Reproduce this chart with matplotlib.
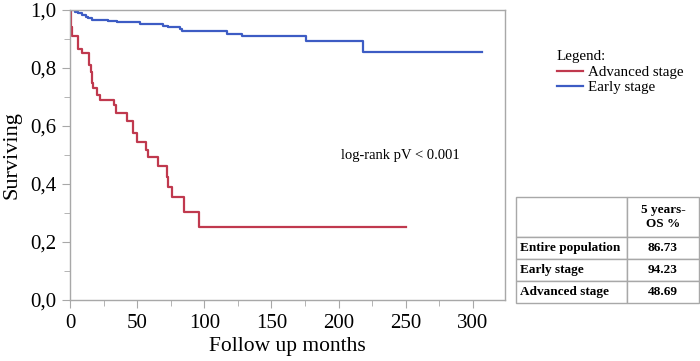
import matplotlib
matplotlib.use("Agg")
import matplotlib.pyplot as plt
from matplotlib.ticker import MultipleLocator, FuncFormatter

plt.rcParams['font.family'] = ['Liberation Serif', 'DejaVu Serif']

# Kaplan-Meier steps
adv_months = [0, 0.7, 1.1, 1.7, 6.2, 9.2, 14.1, 15.6, 16.2, 17.3, 19.9, 22.3,
              32.8, 34.3, 42.7, 47.1, 49.7, 56.6, 57.9, 65.7, 72.0, 72.7,
              75.7, 85.1, 96.3, 250]
adv_surv = [1.0, 0.97, 0.94, 0.91, 0.867, 0.853, 0.81, 0.787, 0.747, 0.73,
            0.707, 0.69, 0.672, 0.644, 0.618, 0.575, 0.546, 0.517, 0.492,
            0.462, 0.425, 0.39, 0.356, 0.305, 0.253, 0.253]

early_months = [0, 3.7, 6.2, 8.7, 11.7, 13.6, 16.2, 28.5, 34.8, 52.1, 69.5,
                73.2, 81.9, 83.6, 116.7, 127.8, 175.7, 218, 307]
early_surv = [1.0, 0.994, 0.989, 0.983, 0.977, 0.971, 0.966, 0.962, 0.958,
              0.952, 0.946, 0.94, 0.934, 0.928, 0.918, 0.91, 0.892, 0.856,
              0.856]

table_rows = ["Entire population", "Early stage", "Advanced stage"]
table_vals = ["86.73", "94.23", "48.69"]
table_head = "5 years-\nOS %"

RED = "#c0394e"
BLUE = "#3d5cc4"
GRAY = "#a8a8a8"

fig = plt.figure(figsize=(7, 3.61), dpi=100)
ax = fig.add_axes([70 / 700, 61 / 361, 435 / 700, 290 / 361])

ax.step(adv_months, adv_surv, where="post", color=RED, lw=1.6, label="Advanced stage")
ax.step(early_months, early_surv, where="post", color=BLUE, lw=1.6, label="Early stage")

ax.set_xlim(0, 324)
ax.set_ylim(0, 1.0)
ax.xaxis.set_major_locator(MultipleLocator(50))
ax.xaxis.set_minor_locator(MultipleLocator(25))
ax.yaxis.set_major_locator(MultipleLocator(0.2))
ax.yaxis.set_minor_locator(MultipleLocator(0.1))
ax.yaxis.set_major_formatter(FuncFormatter(lambda v, p: f"{v:.1f}".replace(".", ",")))

for s in ax.spines.values():
    s.set_color(GRAY)
    s.set_linewidth(1.0)
ax.tick_params(which="major", length=6, color=GRAY, labelsize=15, pad=4)
ax.tick_params(which="minor", length=4, color=GRAY)

ax.set_xlabel("Follow up months", fontsize=15.5, labelpad=3)
ax.set_ylabel("Surviving", fontsize=16, labelpad=6)

ax.text(246, 0.5, "log-rank pV < 0.001", fontsize=10.5, ha="center", va="center")

leg = fig.legend(loc="upper left", bbox_to_anchor=(557 / 700, 1 - 50 / 361),
                 title="Legend:", frameon=False, fontsize=10.8, title_fontsize=10.8,
                 handlelength=1.7, handletextpad=0.35, labelspacing=0.15,
                 borderpad=0, borderaxespad=0, alignment="left")

# table
tax = fig.add_axes([516 / 700, 58 / 361, 183 / 700, 106 / 361])
tax.axis("off")
cells = [["", table_head]] + [[r, v] for r, v in zip(table_rows, table_vals)]
tbl = tax.table(cellText=cells, colWidths=[111 / 183, 72 / 183],
                cellLoc="center", bbox=[0, 0, 1, 1])
tbl.auto_set_font_size(False)
heights = [40 / 106, 22 / 106, 22 / 106, 22 / 106]
for (r, c), cell in tbl.get_celld().items():
    cell.set_height(heights[r])
    cell.set_edgecolor(GRAY)
    cell.set_linewidth(1.0)
    cell.get_text().set_fontsize(9.5)
    cell.get_text().set_fontweight("bold")
    if c == 0:
        cell.get_text().set_ha("left")
        cell.PAD = 0.04

fig.savefig("out.png", dpi=100)
